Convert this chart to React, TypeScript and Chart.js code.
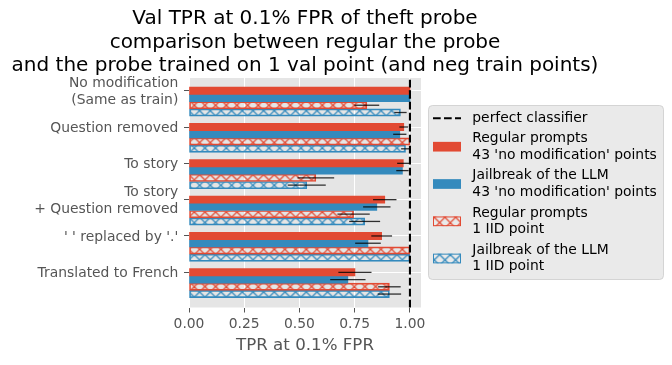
import React, { useEffect, useRef } from 'react';
import { Chart, registerables } from 'chart.js';

Chart.register(...registerables);

// ---------------- data ----------------
const categories: (string | string[])[] = [
  ['No modification', '(Same as train)'],
  'Question removed',
  'To story',
  ['To story', '+ Question removed'],
  "' ' replaced by '.'",
  'Translated to French',
];
const xTickValues = [0, 0.25, 0.5, 0.75, 1.0];

const regularAll = [1.0, 0.972, 0.97, 0.886, 0.872, 0.751];
const regularAllErr = [0.005, 0.02, 0.028, 0.053, 0.047, 0.075];
const jailAll = [1.0, 0.954, 0.966, 0.85, 0.81, 0.719];
const jailAllErr = [0.005, 0.03, 0.028, 0.062, 0.058, 0.08];
const regularOne = [0.805, 1.0, 0.574, 0.745, 1.0, 0.907];
const regularOneErr = [0.056, 0.0, 0.083, 0.073, 0.0, 0.051];
const jailOne = [0.957, 0.98, 0.533, 0.795, 1.0, 0.907];
const jailOneErr = [0.028, 0.02, 0.086, 0.07, 0.0, 0.053];

const seriesLabels: string[][] = [
  ['Regular prompts', "43 'no modification' points"],
  ['Jailbreak of the LLM', "43 'no modification' points"],
  ['Regular prompts', '1 IID point'],
  ['Jailbreak of the LLM', '1 IID point'],
];
const seriesValues = [regularAll, jailAll, regularOne, jailOne];
const seriesErrors = [regularAllErr, jailAllErr, regularOneErr, jailOneErr];
const seriesOffsets = [0, 0.2, 0.4, 0.6];
const seriesHatched = [false, false, true, true];
const perfectValue = 1.0;
const perfectLabel = 'perfect classifier';

const titleLines = [
  'Val TPR at 0.1% FPR of theft probe',
  'comparison between regular the probe',
  'and the probe trained on 1 val point (and neg train points)',
];
const xTitle = 'TPR at 0.1% FPR';

// ---------------- style ----------------
const RED = '#E24A33';
const BLUE = '#348ABD';
const seriesColors = [RED, BLUE, RED, BLUE];
const FONT = "'DejaVu Sans', 'Liberation Sans', sans-serif";
const TICK_COLOR = '#555555';
const PLOT_BG = '#E5E5E5';

function makeHatch(color: string): CanvasPattern | string {
  const tile = document.createElement('canvas');
  const S = 32;
  tile.width = S;
  tile.height = S;
  const c = tile.getContext('2d');
  if (!c) return color;
  const p = S / 3;
  c.strokeStyle = color;
  c.lineWidth = 1.3;
  for (let k = -4; k <= 8; k++) {
    c.beginPath();
    c.moveTo(k * p, 0);
    c.lineTo(k * p + S, S);
    c.stroke();
    c.beginPath();
    c.moveTo(k * p, 0);
    c.lineTo(k * p - S, S);
    c.stroke();
  }
  const pat = c.createPattern(tile, 'repeat');
  if (!pat) return color;
  try {
    pat.setTransform(new DOMMatrix().translate(2.3, 9.3));
  } catch (e) {
    /* ignore */
  }
  return pat;
}

export default function App() {
  const ref = useRef<HTMLCanvasElement | null>(null);

  useEffect(() => {
    const canvas = ref.current;
    if (!canvas) return;
    const patterns = seriesColors.map((c, k) => (seriesHatched[k] ? makeHatch(c) : c));

    const datasets = seriesValues.map((vals, k) => ({
      label: seriesLabels[k].join('\n'),
      data: vals.map((v, i) => ({ x: v, y: i + seriesOffsets[k] })),
      backgroundColor: patterns[k] as any,
      borderColor: seriesColors[k],
      borderWidth: seriesHatched[k] ? 1 : 0,
      borderSkipped: false as const,
      grouped: false,
      categoryPercentage: 1,
      barPercentage: 1,
    }));

    const bgPlugin = {
      id: 'bgPlugin',
      beforeDraw(chart: any) {
        const { ctx, chartArea: a } = chart;
        ctx.save();
        ctx.fillStyle = '#ffffff';
        ctx.fillRect(0, 0, chart.width, chart.height);
        ctx.fillStyle = PLOT_BG;
        ctx.fillRect(a.left, a.top, a.right - a.left, a.bottom - a.top);
        ctx.restore();
      },
    };

    const overlayPlugin = {
      id: 'overlayPlugin',
      afterDatasetsDraw(chart: any) {
        const { ctx, chartArea: a } = chart;
        const xs = chart.scales.x;
        const ys = chart.scales.y;
        ctx.save();
        // error bars
        ctx.strokeStyle = 'rgba(0,0,0,0.8)';
        ctx.lineWidth = 1.3;
        seriesValues.forEach((vals, k) => {
          vals.forEach((v, i) => {
            const e = seriesErrors[k][i];
            if (!e) return;
            const y = ys.getPixelForValue(i + seriesOffsets[k]);
            ctx.beginPath();
            ctx.moveTo(xs.getPixelForValue(v - e), y);
            ctx.lineTo(xs.getPixelForValue(v + e), y);
            ctx.stroke();
          });
        });
        // perfect classifier line
        const px = xs.getPixelForValue(perfectValue);
        ctx.strokeStyle = '#000000';
        ctx.lineWidth = 2.1;
        ctx.setLineDash([7.7, 3.3]);
        ctx.beginPath();
        ctx.moveTo(px, a.bottom);
        ctx.lineTo(px, a.top);
        ctx.stroke();
        ctx.restore();
      },
      afterDraw(chart: any) {
        const { ctx } = chart;
        ctx.save();
        // title
        ctx.fillStyle = '#000000';
        ctx.font = `20px ${FONT}`;
        ctx.textAlign = 'center';
        ctx.textBaseline = 'alphabetic';
        const cx = (chart.chartArea.left + chart.chartArea.right) / 2;
        titleLines.forEach((t, i) => ctx.fillText(t, cx, 24 + i * 23.5));

        // legend
        const bx = 428.5, by = 105.5, bw = 235, bh = 174;
        ctx.beginPath();
        (ctx as any).roundRect(bx, by, bw, bh, 4);
        ctx.fillStyle = 'rgba(229,229,229,0.8)';
        ctx.fill();
        ctx.strokeStyle = 'rgba(204,204,204,0.8)';
        ctx.lineWidth = 1;
        ctx.stroke();

        const hx = 433, hw = 28, tx = 472.3;
        ctx.font = `13.89px ${FONT}`;
        ctx.textAlign = 'left';
        ctx.textBaseline = 'middle';
        ctx.fillStyle = '#000000';
        // dashed line entry
        const ly = 118.3;
        ctx.save();
        ctx.strokeStyle = '#000000';
        ctx.lineWidth = 2.1;
        ctx.setLineDash([7.7, 3.3]);
        ctx.beginPath();
        ctx.moveTo(hx, ly);
        ctx.lineTo(hx + hw, ly);
        ctx.stroke();
        ctx.restore();
        ctx.fillText(perfectLabel, tx, ly);

        const centers = [146.7, 184, 221.3, 258.5];
        seriesLabels.forEach((lines, k) => {
          const c = centers[k];
          const ph = 9.7;
          if (seriesHatched[k]) {
            ctx.fillStyle = patterns[k] as any;
            ctx.fillRect(hx, c - ph / 2, hw, ph);
            ctx.strokeStyle = seriesColors[k];
            ctx.lineWidth = 1;
            ctx.strokeRect(hx + 0.5, c - ph / 2 + 0.5, hw - 1, ph - 1);
          } else {
            ctx.fillStyle = seriesColors[k];
            ctx.fillRect(hx, c - ph / 2, hw, ph);
          }
          ctx.fillStyle = '#000000';
          ctx.fillText(lines[0], tx, c - 8.2);
          ctx.fillText(lines[1], tx, c + 8.2);
        });
        ctx.restore();
      },
    };

    const chart = new Chart(canvas, {
      type: 'bar',
      data: { datasets: datasets as any },
      options: {
        animation: false,
        responsive: false,
        devicePixelRatio: 1,
        indexAxis: 'y',
        layout: { padding: { left: 0, top: 78, right: 251, bottom: 0 } },
        plugins: {
          legend: { display: false },
          title: { display: false },
          tooltip: { enabled: false },
        },
        scales: {
          x: {
            type: 'linear',
            min: 0,
            max: 1.05,
            offset: false,
            afterBuildTicks: (s: any) => {
              s.ticks = xTickValues.map((v) => ({ value: v }));
            },
            afterFit: (s: any) => {
              s.height = 57.5;
            },
            ticks: {
              color: TICK_COLOR,
              font: { family: FONT, size: 13.89 },
              padding: 3.2,
              callback: (v: any) => Number(v).toFixed(2),
            },
            grid: {
              offset: false,
              color: '#ffffff',
              lineWidth: 1,
              tickColor: TICK_COLOR,
              tickLength: 5,
              tickWidth: 1,
            },
            border: { display: false },
            title: {
              display: true,
              text: xTitle,
              color: TICK_COLOR,
              font: { family: FONT, size: 16.67 },
              padding: { top: 0, bottom: 9 },
            },
          },
          y: {
            type: 'linear',
            reverse: true,
            min: -0.35,
            max: 5.97,
            offset: false,
            afterBuildTicks: (s: any) => {
              s.ticks = categories.map((_, i) => ({ value: i }));
            },
            afterFit: (s: any) => {
              s.width = 189;
            },
            ticks: {
              color: TICK_COLOR,
              font: { family: FONT, size: 13.89 },
              padding: 5.7,
              labelOffset: 1.5,
              callback: (_v: any, idx: number) => categories[idx] as any,
            },
            grid: {
              offset: false,
              color: '#ffffff',
              lineWidth: 1,
              tickColor: TICK_COLOR,
              tickLength: 5,
              tickWidth: 1,
            },
            border: { display: false },
          },
        },
      },
      plugins: [bgPlugin, overlayPlugin],
    });

    return () => {
      chart.destroy();
    };
  }, []);

  return (
    <div style={{ position: 'absolute', left: 0, top: 0, width: 672, height: 365 }}>
      <canvas ref={ref} width={672} height={365} style={{ width: 672, height: 365, display: 'block' }} />
    </div>
  );
}
